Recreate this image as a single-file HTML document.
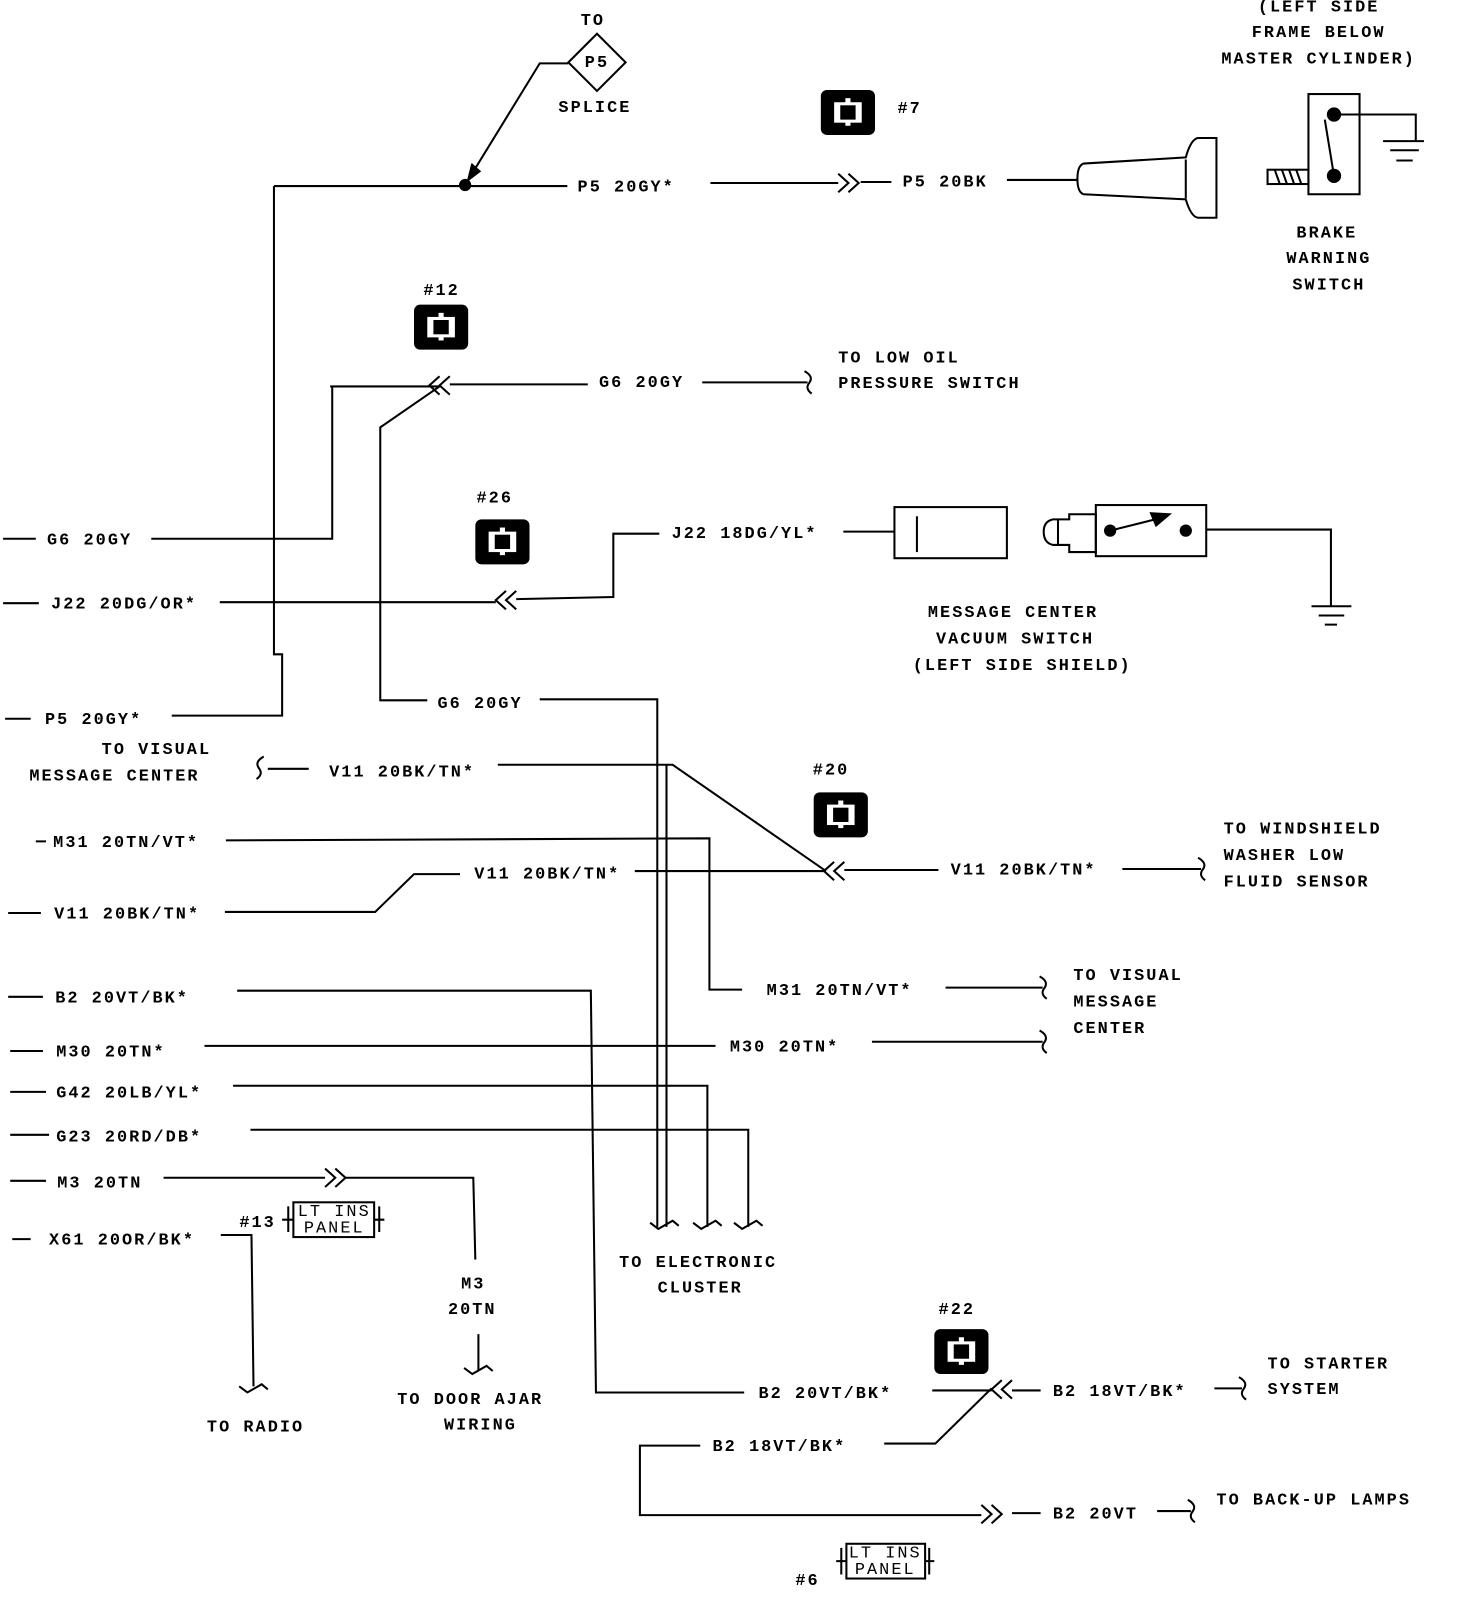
<!DOCTYPE html>
<html><head><meta charset="utf-8"><style>
html,body{margin:0;padding:0;background:#fff;}
svg{display:block}
text{font-family:"Liberation Mono",monospace;font-size:16.5px;font-weight:bold;fill:#000;letter-spacing:2px;dominant-baseline:middle}
.c{text-anchor:middle}
</style></head><body>
<svg width="1472" height="1600" viewBox="0 0 1440 1565" preserveAspectRatio="none" xmlns="http://www.w3.org/2000/svg">
<defs>
<g id="icon"><rect x="0" y="0" width="53" height="44" rx="6" fill="#000"/><rect x="13" y="12" width="27" height="20" fill="#fff"/><rect x="19" y="15" width="15" height="14" fill="#000"/><rect x="24" y="8" width="5" height="6" fill="#fff"/><rect x="24" y="30" width="5" height="5" fill="#fff"/></g>
<path id="dl" d="M10,-9 L0,0 L10,9 M20,-9 L10,0 L20,9" fill="none" stroke="#000" stroke-width="2"/>
<path id="dr" d="M0,-9 L10,0 L0,9 M10,-9 L20,0 L10,9" fill="none" stroke="#000" stroke-width="2"/>
<path id="sq" d="M-3,-11 Q6,-6 2,0 Q-3,6 4,11" fill="none" stroke="#000" stroke-width="2"/>
<path id="tk" d="M-14,-4 L-6,2 L8,-6 L14,-1" fill="none" stroke="#000" stroke-width="2"/>
</defs>
<g stroke="#000" stroke-width="2" fill="none">
<!-- P5 splice -->
<path d="M584,33 L612,61 L584,89 L556,61 Z"/>
<path d="M556,62 L528,62 L458,176"/>
<path d="M462,160 L458,176 L470,167" fill="#000"/>
<path d="M268,182 L555,182 M695,179 L820,179 M842,178 L872,178 M985,176 L1055,176"/>
<path d="M268,182 L268,640 L276,640 L276,700 L168,700"/>
<!-- plug -->
<path d="M1060,160 L1160,154 Q1165,136 1172,135 L1190,135 L1190,213 L1172,213 Q1165,212 1160,195 L1060,190 Q1054,188 1054,175 Q1054,162 1060,160 Z"/>
<path d="M1160,156 L1160,194"/>
<!-- brake switch -->
<rect x="1280" y="92" width="50" height="98"/>
<path d="M1305,112 L1385,112 L1385,138 M1353,138 L1393,138 M1360,147 L1388,147 M1366,157 L1382,157"/>
<path d="M1296,117 L1305,172"/>
<rect x="1240" y="166" width="40" height="14"/>
<path d="M1247,166 L1252,180 M1254,166 L1259,180 M1261,166 L1266,180 M1268,166 L1273,180"/>
<!-- G6 top -->
<path d="M323,378 L430,378 M440,376 L575,376 M687,374 L790,374"/>
<path d="M430,378 L372,418 L372,685 L418,685 M528,684 L643,684 L643,1200"/>
<path d="M148,527 L325,527 L325,378"/>
<path d="M3,527 L35,527 M3,590 L38,590 M5,703 L30,703 M35,823 L45,823 M8,893 L40,893 M8,975 L42,975 M10,1028 L42,1028 M10,1068 L45,1068 M10,1110 L48,1110 M10,1155 L45,1155 M12,1212 L30,1212"/>
<!-- J22 -->
<path d="M215,589 L485,589 M505,586 L600,584 L600,522 L645,522 M825,520 L875,520"/>
<rect x="875" y="496" width="110" height="50"/>
<path d="M897,505 L897,540"/>
<path d="M1035,508 L1030,508 Q1021,510 1021,520 Q1021,531 1030,533 L1035,533 Z M1035,508 L1046,508 L1046,503 L1072,503 L1072,540 L1046,540 L1046,533 L1035,533"/>
<rect x="1072" y="494" width="108" height="50"/>
<path d="M1086,519 L1130,508"/>
<path d="M1144,503 L1126,502 L1131,514 Z" fill="#000"/>
<path d="M1180,518 L1302,518 L1302,593 M1283,593 L1322,593 M1290,602 L1315,602 M1296,611 L1308,611"/>
<!-- V11 -->
<path d="M262,752 L302,752 M487,748 L658,748 L808,852 M652,748 L652,1200"/>
<path d="M621,852 L808,852 M826,851 L918,851 M1098,850 L1175,850"/>
<path d="M220,892 L367,892 L405,855 L450,855"/>
<!-- M31 -->
<path d="M221,822 L694,820 L694,968 L726,968 M925,966 L1020,966"/>
<!-- B2 -->
<path d="M232,969 L578,969 L583,1362 L728,1362 M912,1360 L970,1360 M990,1360 L1018,1360 M1188,1358 L1215,1358"/>
<path d="M970,1358 L915,1412 L865,1412 M685,1414 L626,1414 L626,1482 L960,1482 M990,1480 L1018,1480 M1132,1478 L1165,1478"/>
<!-- M30 G42 G23 -->
<path d="M200,1023 L700,1023 M853,1019 L1020,1019"/>
<path d="M228,1062 L692,1062 L692,1200 M245,1105 L732,1105 L732,1200"/>
<!-- M3 -->
<path d="M160,1152 L318,1152 M338,1152 L463,1152 L465,1232 M468,1305 L468,1340"/>
<!-- X61 -->
<path d="M216,1208 L246,1208 L248,1356"/>
<!-- LT INS panels -->
<rect x="287" y="1176" width="79" height="34"/>
<path d="M276,1193 L287,1193 M366,1193 L376,1193 M282,1180 L282,1205 M371,1180 L371,1205"/>
<rect x="828" y="1510" width="77" height="34"/>
<path d="M818,1527 L828,1527 M905,1527 L914,1527 M823,1514 L823,1540 M909,1514 L909,1540"/>
</g>
<circle cx="455" cy="181" r="6"/>
<circle cx="1305" cy="112" r="7"/><circle cx="1305" cy="172" r="7"/>
<circle cx="1086" cy="519" r="6"/><circle cx="1160" cy="519" r="6"/>
<use href="#dr" x="820" y="179"/>
<use href="#dl" x="420" y="377"/>
<use href="#dl" x="485" y="587"/>
<use href="#dl" x="806" y="852"/>
<use href="#dl" x="970" y="1359"/>
<use href="#dr" x="318" y="1152"/>
<use href="#dr" x="960" y="1481"/>
<use href="#sq" x="790" y="374"/>
<use href="#sq" x="255" y="751" transform="translate(510,0) scale(-1,1)"/>
<use href="#sq" x="1175" y="850"/>
<use href="#sq" x="1020" y="966"/>
<use href="#sq" x="1020" y="1019"/>
<use href="#sq" x="1215" y="1358"/>
<use href="#sq" x="1165" y="1478"/>
<use href="#tk" x="650" y="1200"/>
<use href="#tk" x="692" y="1200"/>
<use href="#tk" x="732" y="1200"/>
<use href="#tk" x="248" y="1360"/>
<use href="#tk" x="468" y="1342"/>
<use href="#icon" x="803" y="88"/>
<use href="#icon" x="405" y="298"/>
<use href="#icon" x="465" y="508"/>
<use href="#icon" x="796" y="775"/>
<use href="#icon" x="914" y="1300"/>
<text x="580" y="20" class="c">TO</text>
<text x="584" y="61" class="c">P5</text>
<text x="582" y="105" class="c">SPLICE</text>
<text x="565" y="183">P5 20GY*</text>
<text x="883" y="178">P5 20BK</text>
<text x="878" y="106">#7</text>
<text x="1290" y="7" class="c">(LEFT SIDE</text>
<text x="1290" y="32" class="c">FRAME BELOW</text>
<text x="1290" y="58" class="c">MASTER CYLINDER)</text>
<text x="1298" y="228" class="c">BRAKE</text>
<text x="1300" y="253" class="c">WARNING</text>
<text x="1300" y="279" class="c">SWITCH</text>
<text x="432" y="284" class="c">#12</text>
<text x="586" y="374">G6 20GY</text>
<text x="820" y="350">TO LOW OIL</text>
<text x="820" y="375">PRESSURE SWITCH</text>
<text x="484" y="487" class="c">#26</text>
<text x="46" y="528">G6 20GY</text>
<text x="50" y="591">J22 20DG/OR*</text>
<text x="657" y="522">J22 18DG/YL*</text>
<text x="991" y="599" class="c">MESSAGE CENTER</text>
<text x="993" y="625" class="c">VACUUM SWITCH</text>
<text x="1000" y="651" class="c">(LEFT SIDE SHIELD)</text>
<text x="428" y="688">G6 20GY</text>
<text x="44" y="704">P5 20GY*</text>
<text x="153" y="733" class="c">TO VISUAL</text>
<text x="112" y="759" class="c">MESSAGE CENTER</text>
<text x="322" y="755">V11 20BK/TN*</text>
<text x="813" y="753" class="c">#20</text>
<text x="52" y="824">M31 20TN/VT*</text>
<text x="464" y="855">V11 20BK/TN*</text>
<text x="930" y="851">V11 20BK/TN*</text>
<text x="1197" y="811">TO WINDSHIELD</text>
<text x="1197" y="837">WASHER LOW</text>
<text x="1197" y="863">FLUID SENSOR</text>
<text x="53" y="894">V11 20BK/TN*</text>
<text x="54" y="976">B2 20VT/BK*</text>
<text x="750" y="969">M31 20TN/VT*</text>
<text x="1050" y="954">TO VISUAL</text>
<text x="1050" y="980">MESSAGE</text>
<text x="1050" y="1006">CENTER</text>
<text x="55" y="1029">M30 20TN*</text>
<text x="714" y="1024">M30 20TN*</text>
<text x="55" y="1069">G42 20LB/YL*</text>
<text x="55" y="1112">G23 20RD/DB*</text>
<text x="56" y="1157">M3 20TN</text>
<text x="48" y="1213">X61 20OR/BK*</text>
<text x="252" y="1196" class="c">#13</text>
<text x="327" y="1185" class="c" style="font-weight:normal">LT INS</text>
<text x="327" y="1201" class="c" style="font-weight:normal">PANEL</text>
<text x="683" y="1235" class="c">TO ELECTRONIC</text>
<text x="685" y="1260" class="c">CLUSTER</text>
<text x="463" y="1256" class="c">M3</text>
<text x="462" y="1281" class="c">20TN</text>
<text x="460" y="1369" class="c">TO DOOR AJAR</text>
<text x="470" y="1394" class="c">WIRING</text>
<text x="250" y="1396" class="c">TO RADIO</text>
<text x="936" y="1281" class="c">#22</text>
<text x="742" y="1363">B2 20VT/BK*</text>
<text x="1030" y="1361">B2 18VT/BK*</text>
<text x="1240" y="1334">TO STARTER</text>
<text x="1240" y="1359">SYSTEM</text>
<text x="697" y="1415">B2 18VT/BK*</text>
<text x="1030" y="1481">B2 20VT</text>
<text x="1190" y="1467">TO BACK-UP LAMPS</text>
<text x="790" y="1546" class="c">#6</text>
<text x="866" y="1519" class="c" style="font-weight:normal">LT INS</text>
<text x="866" y="1535" class="c" style="font-weight:normal">PANEL</text>
</svg>
</body></html>
